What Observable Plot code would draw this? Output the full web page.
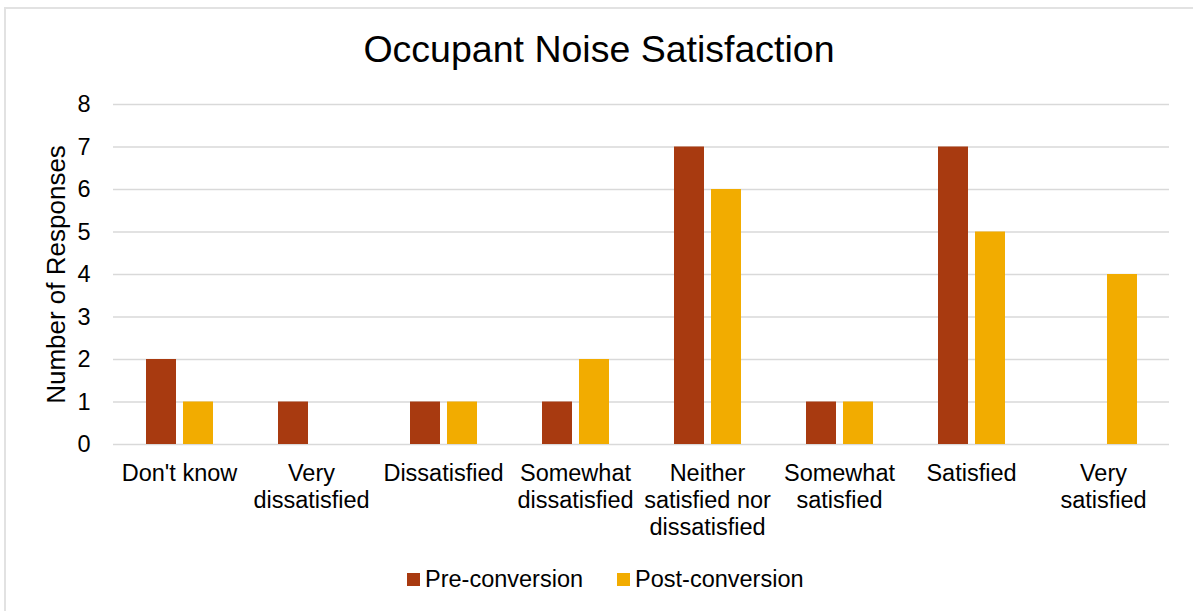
<!DOCTYPE html>
<html>
<head>
<meta charset="utf-8">
<script src="https://cdn.jsdelivr.net/npm/d3@7"></script>
<script src="https://cdn.jsdelivr.net/npm/@observablehq/plot@0.6"></script>
<style>
  html, body { margin: 0; padding: 0; overflow: hidden; background: #fff; width: 1193px; height: 611px; }
  body { font-family: "Liberation Sans", Arial, sans-serif; color: #000; position: relative; }
  #frame { position: absolute; left: 4px; top: 7px; width: 1300px; height: 700px; border: 2px solid #e2e2e2; box-sizing: border-box; }
  #title { position: absolute; left: 0; top: 31px; width: 1198px; text-align: center; font-size: 37.5px; line-height: 37.5px; }
  #chart { position: absolute; left: 0; top: 80px; }
  #legend { position: absolute; left: 407px; top: 565px; height: 28px; display: flex; align-items: center; font-size: 23.5px; line-height: 28px; }
  #legend .sw { display: inline-block; width: 13px; height: 13px; margin-right: 5px; }
  #legend .item { display: flex; align-items: center; }
  #legend .item + .item { margin-left: 34px; }
</style>
</head>
<body>
<div id="frame"></div>
<div id="title">Occupant Noise Satisfaction</div>
<div id="chart"></div>
<div id="legend"></div>
<script>
const categories = ["Don't know", "Very dissatisfied", "Dissatisfied", "Somewhat dissatisfied", "Neither satisfied nor dissatisfied", "Somewhat satisfied", "Satisfied", "Very satisfied"];
const categoryLabels = ["Don't know", "Very\ndissatisfied", "Dissatisfied", "Somewhat\ndissatisfied", "Neither\nsatisfied nor\ndissatisfied", "Somewhat\nsatisfied", "Satisfied", "Very\nsatisfied"];
const seriesNames = ["Pre-conversion", "Post-conversion"];
const preConversion = [2, 1, 1, 1, 7, 1, 7, 0];
const postConversion = [1, 0, 1, 2, 6, 1, 5, 4];
const seriesColors = ["#A83A10", "#F2AC00"];
const yTicks = [0, 1, 2, 3, 4, 5, 6, 7, 8];
const yTitle = "Number of Responses";

const rows = categories.flatMap((c, i) => [
  {category: c, series: seriesNames[0], value: preConversion[i]},
  {category: c, series: seriesNames[1], value: postConversion[i]}
]).filter(d => d.value > 0);

const font = '"Liberation Sans", Arial, sans-serif';

const chart = Plot.plot({
  width: 1193,
  height: 464,
  marginLeft: 110,
  marginRight: 21,
  marginTop: 24,
  marginBottom: 100,
  style: {fontFamily: font, fontSize: "23.5px", color: "#000", background: "transparent", overflow: "visible"},
  fx: {domain: categories, padding: 0},
  x: {domain: seriesNames, paddingInner: 0.2, paddingOuter: 0.85, axis: null},
  y: {domain: [0, 8]},
  color: {domain: seriesNames, range: seriesColors},
  marks: [
    Plot.ruleY(yTicks, {stroke: "#d9d9d9", strokeWidth: 1.4}),
    Plot.barY(rows, {fx: "category", x: "series", y: "value", fill: "series"}),
    Plot.axisY({ticks: yTicks, tickSize: 0, tickPadding: 23, label: null, fontSize: 23.5}),
    Plot.axisFx({anchor: "bottom", tickSize: 0, tickPadding: 17, lineHeight: 1.15, fontSize: 23.5, label: null,
      tickFormat: d => categoryLabels[categories.indexOf(d)]}),
    Plot.text([{fx: categories[0], t: yTitle}], {fx: "fx", text: "t", frameAnchor: "left", textAnchor: "middle", lineAnchor: "middle", rotate: -90, dx: -57, fontSize: 26, fill: "#000"})
  ]
});
document.getElementById("chart").appendChild(chart);

const legend = document.getElementById("legend");
seriesNames.forEach((name, i) => {
  const item = document.createElement("div");
  item.className = "item";
  const sw = document.createElement("span");
  sw.className = "sw";
  sw.style.background = seriesColors[i];
  const label = document.createElement("span");
  label.textContent = name;
  item.appendChild(sw);
  item.appendChild(label);
  legend.appendChild(item);
});
</script>
</body>
</html>
